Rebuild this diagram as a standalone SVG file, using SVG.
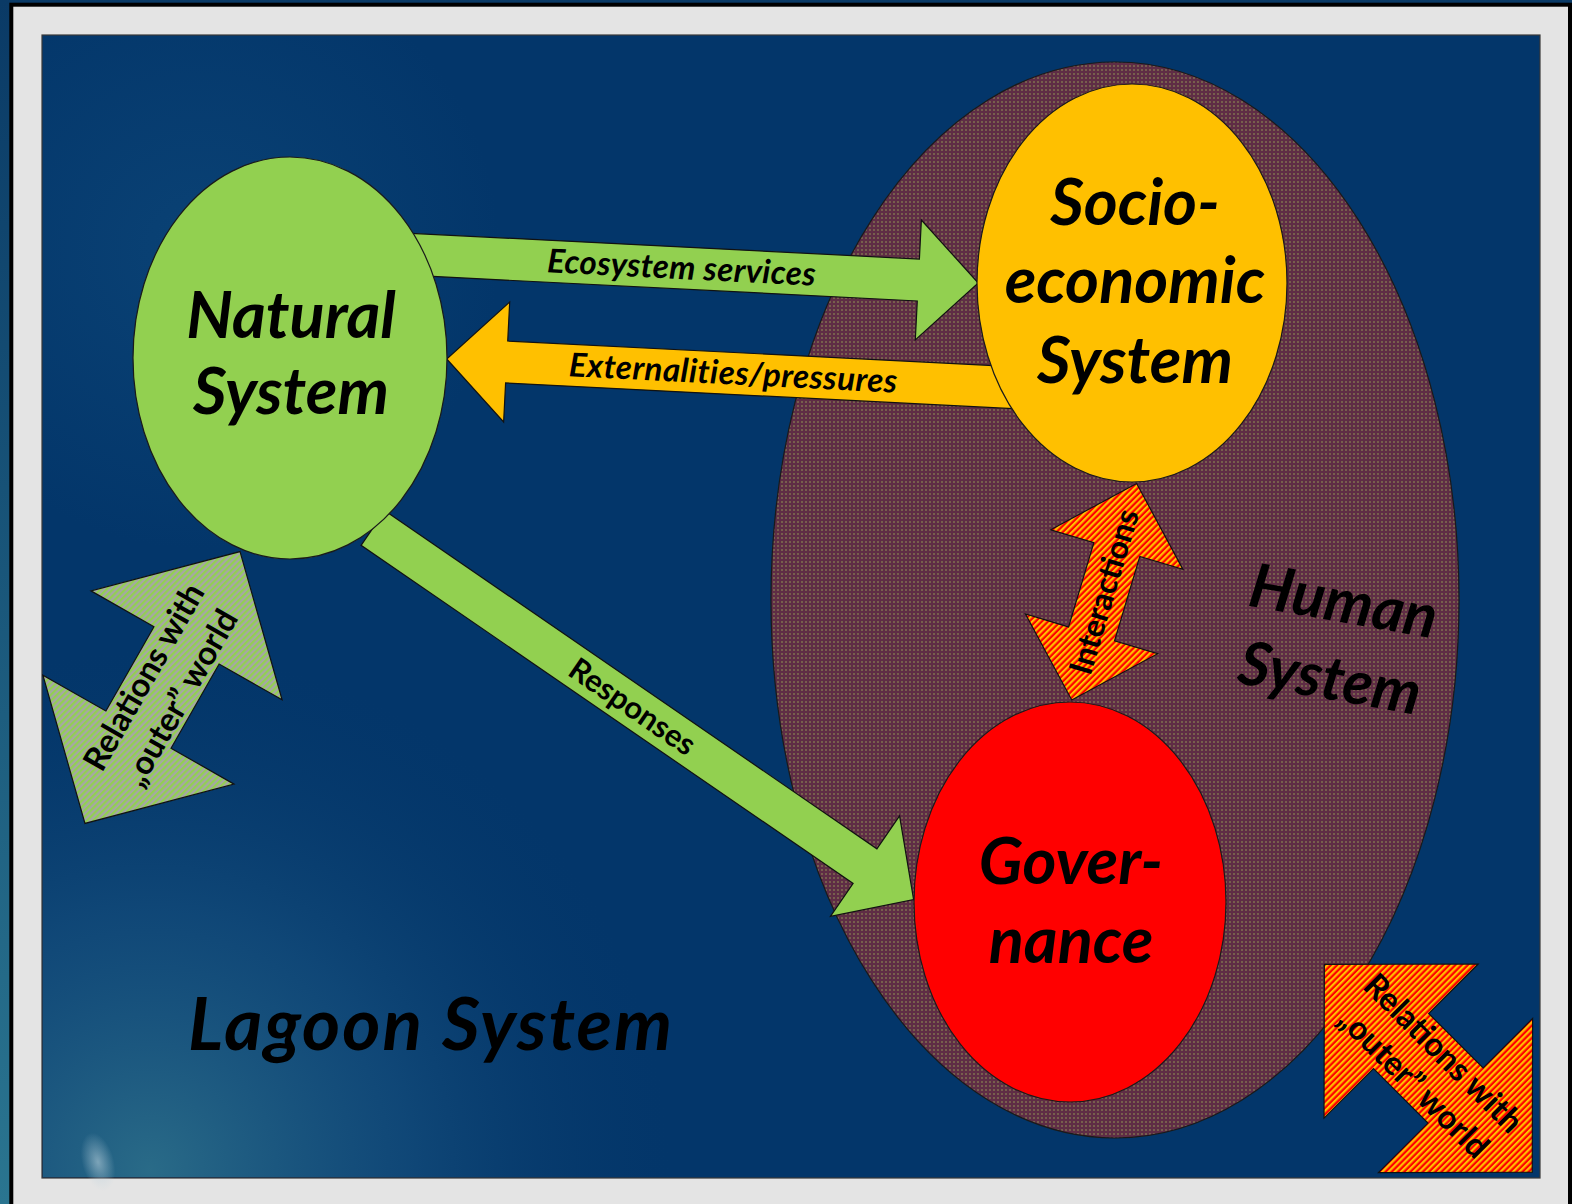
<svg xmlns="http://www.w3.org/2000/svg" width="1572" height="1204" viewBox="0 0 1572 1204">
<defs>
<style>
.node{stroke:#1a1a1a;stroke-width:1.2}
.arr{stroke:#111;stroke-width:1.2;stroke-linejoin:miter}
.big{font-family:Lato,"Open Sans","Liberation Sans",sans-serif;font-weight:bold;font-style:italic;fill:#000;text-anchor:middle}
.lbl{font-family:Lato,"Open Sans","Liberation Sans",sans-serif;font-weight:bold;fill:#000;text-anchor:middle}
.it{font-style:italic}
</style>
<pattern id="dots" width="4" height="4" patternUnits="userSpaceOnUse">
<rect width="4" height="4" fill="#5f2d45"/><circle cx="2" cy="2" r="1" fill="#7f6f4f"/>
</pattern>
<pattern id="stripeGG" width="4.4" height="10" patternUnits="userSpaceOnUse" patternTransform="rotate(15.3)">
<rect width="4.4" height="10" fill="#a6a6a6"/><rect width="2.2" height="10" fill="#92d050"/>
</pattern>
<pattern id="stripeRO1" width="4.4" height="10" patternUnits="userSpaceOnUse" patternTransform="rotate(28.3)">
<rect width="4.4" height="10" fill="#ff0000"/><rect width="2.2" height="10" fill="#ffc000"/>
</pattern>
<pattern id="stripeRO2" width="4.4" height="10" patternUnits="userSpaceOnUse" patternTransform="rotate(90)">
<rect width="4.4" height="10" fill="#ff0000"/><rect width="2.2" height="10" fill="#ffc000"/>
</pattern>
<radialGradient id="sea1" cx="150" cy="1170" r="520" gradientUnits="userSpaceOnUse">
<stop offset="0" stop-color="#33788f" stop-opacity="0.8"/>
<stop offset="0.5" stop-color="#22608a" stop-opacity="0.4"/>
<stop offset="1" stop-color="#0a3d6c" stop-opacity="0"/>
</radialGradient>
<radialGradient id="sea2" cx="200" cy="250" r="300" gradientUnits="userSpaceOnUse">
<stop offset="0" stop-color="#0f4a7c" stop-opacity="0.6"/>
<stop offset="1" stop-color="#0f4a7c" stop-opacity="0"/>
</radialGradient>
<radialGradient id="glint">
<stop offset="0" stop-color="#b8d0dc" stop-opacity="0.6"/>
<stop offset="1" stop-color="#b8d0dc" stop-opacity="0"/>
</radialGradient>
<linearGradient id="outer" x1="0" y1="0" x2="0" y2="1">
<stop offset="0" stop-color="#0a3a66"/>
<stop offset="1" stop-color="#2a7590"/>
</linearGradient>
</defs>

<!-- background -->
<rect x="0" y="0" width="1572" height="1204" fill="url(#outer)"/>
<rect x="11.3" y="4.7" width="1558.7" height="1212" fill="#e4e4e4" stroke="#000" stroke-width="4"/>
<rect x="42" y="35" width="1498" height="1143" fill="#03366a" stroke="#3a3a3a" stroke-width="1.2"/>
<rect x="43" y="36" width="1496" height="1141" fill="url(#sea2)"/>
<rect x="43" y="36" width="1496" height="1141" fill="url(#sea1)"/>
<ellipse cx="98" cy="1162" rx="16" ry="30" fill="url(#glint)" transform="rotate(-15 98 1162)"/>

<g id="human">
<ellipse class="node" cx="1115" cy="600" rx="344" ry="538" fill="url(#dots)"/>
<text class="big" font-size="61" transform="translate(1340,622) rotate(10)"><tspan x="0" y="0">Human</tspan><tspan x="0" y="78">System</tspan></text>
</g>

<g id="connectors">
<g id="ecosystem-services" transform="translate(405,254) rotate(2.9)">
<polygon class="arr" fill="#92d050" points="0,-21 514,-21 514,-60 574,0 514,60 514,21 0,21"/>
<text class="lbl it" font-size="33" letter-spacing="0.4" x="277" y="11">Ecosystem services</text>
</g>
<g id="externalities" transform="translate(1020,388) rotate(2.9)">
<polygon class="arr" fill="#ffc000" points="0,-21 -514,-21 -514,-60 -574,0 -514,60 -514,21 0,21"/>
<text class="lbl it" font-size="33" letter-spacing="0.5" x="-287" y="11">Externalities/pressures</text>
</g>
<g id="responses" transform="translate(373,528) rotate(34.5)">
<polygon class="arr" fill="#92d050" points="0,-21 597,-21 597,-61 656,0 597,61 597,21 0,21"/>
<text class="lbl" font-size="31" x="315" y="11">Responses</text>
</g>
<g id="interactions" transform="translate(1104.2,591.7) rotate(16.7)">
<polygon class="arr" fill="url(#stripeRO1)" points="0,-113 69,-44 24,-44 24,44 69,44 0,113 -69,44 -24,44 -24,-44 -69,-44"/>
<text class="lbl" font-size="32" transform="rotate(-90)" x="0" y="11">Interactions</text>
</g>
<g id="relations-left" transform="translate(162.5,687.5) rotate(29.7)">
<polygon class="arr" fill="url(#stripeGG)" points="0,-156.5 110,-48.5 37.5,-48.5 37.5,48.5 110,48.5 0,156.5 -110,48.5 -37.5,48.5 -37.5,-48.5 -110,-48.5"/>
<text class="lbl" font-size="33" transform="rotate(-90)"><tspan x="0" y="-10">Relations with</tspan><tspan x="0" y="32">„outer” world</tspan></text>
</g>
<g id="relations-right" transform="translate(1428.3,1068.3) rotate(-45)">
<polygon class="arr" fill="url(#stripeRO2)" points="0,-147 109,-38.5 39,-38.5 39,38.5 109,38.5 0,147 -109,38.5 -39,38.5 -39,-38.5 -109,-38.5"/>
<text class="lbl" font-size="33" transform="rotate(90)"><tspan x="0" y="-10">Relations with</tspan><tspan x="0" y="32">„outer” world</tspan></text>
</g>
</g>

<g id="natural">
<ellipse class="node" cx="290" cy="358" rx="157" ry="201" fill="#92d050"/>
<text class="big" font-size="65"><tspan x="291" y="338">Natural</tspan><tspan x="291" y="414">System</tspan></text>
</g>

<g id="socio">
<ellipse class="node" cx="1132" cy="283" rx="155" ry="199" fill="#ffc000"/>
<text class="big" font-size="65"><tspan x="1135" y="225">Socio-</tspan><tspan x="1135" y="303">economic</tspan><tspan x="1135" y="383">System</tspan></text>
</g>

<g id="governance">
<ellipse class="node" cx="1070" cy="902" rx="156" ry="200" fill="#ff0000"/>
<text class="big" font-size="65"><tspan x="1071" y="884">Gover-</tspan><tspan x="1071" y="963">nance</tspan></text>
</g>

<g id="lagoon">
<text class="big" font-size="73" letter-spacing="2" x="431" y="1050">Lagoon System</text>
</g>
</svg>
